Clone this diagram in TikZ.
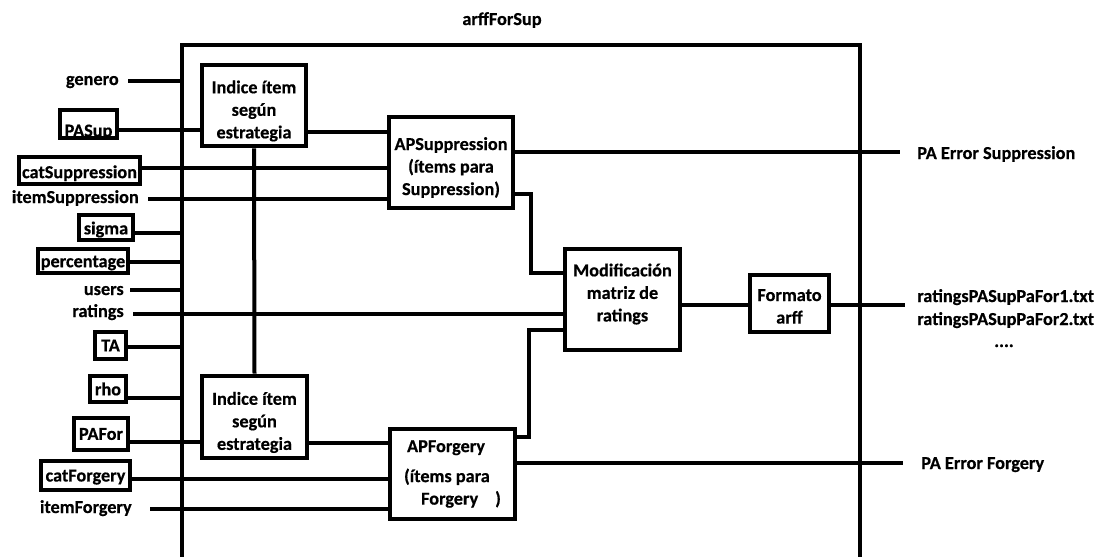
\documentclass[tikz,border=0pt]{standalone}
\usepackage{fontspec}
\setmainfont{Carlito}[BoldFeatures={FakeBold=0.5}]
\usetikzlibrary{calc}
\begin{document}
\begin{tikzpicture}[x=0.75pt,y=-0.75pt,
  txt/.style={font=\fontsize{13.7pt}{16.9pt}\selectfont\bfseries, inner sep=0pt, align=center},
  bx/.style 2 args={draw, line width=3.4pt, inner sep=0pt,
    minimum width=#1*0.75pt, minimum height=#2*0.75pt, txt},
  frame/.style={line width=3.4pt},
  wire/.style={line width=3pt}]

\useasboundingbox (0,0) rectangle (1104,557);

% title of the block
\node[txt, anchor=base] (title) at (502,25) {arffForSup};

% outer block, open at the bottom
\coordinate (fbl) at (182,562);
\coordinate (ftl) at (182,45);
\coordinate (ftr) at (860,45);
\coordinate (fbr) at (860,562);
\draw[frame] (fbl) -- (ftl) -- (ftr) -- (fbr);

% plain input names
\node[txt, anchor=base east] (gen)   at (119,85)  {genero};
\node[txt, anchor=base east] (itSup) at (139,203) {itemSuppression};
\node[txt, anchor=base east] (usr)   at (124,295) {users};
\node[txt, anchor=base east] (rat)   at (124,317) {ratings};
\node[txt, anchor=base east] (itFor) at (132,513) {itemForgery};

% boxed input parameters
\node[bx={57}{28},  label={[txt,yshift=-6pt]center:PASup}] (PASup) at (88.5,124) {};
\node[bx={121}{27}, label={[txt,yshift=-2pt]center:catSuppression}] (catSup) at (79.5,170.5) {};
\node[bx={54}{25},  label={[txt,yshift=-1.5pt]center:sigma}] (sigma) at (106,227.5) {};
\node[bx={90}{24},  label={[txt,yshift=-1.5pt]center:percentage}] (perc) at (83,261) {};
\node[bx={31}{27}]  (TA)     at (110.5,345.5) {TA};
\node[bx={36}{26}]  (rho)    at (108,389)   {rho};
\node[bx={54}{32}]  (PAFor)  at (101,434)   {PAFor};
\node[bx={89}{29},  label={[txt,yshift=-1.2pt]center:catForgery}] (catFor) at (85.5,475.5) {};

% processing blocks
\node[bx={104}{81}, label={[txt,yshift=-4.1pt]center:{Indice ítem\\según\\estrategia}}] (Ind1) at (254,105.5) {};
\node[bx={105}{82}, label={[txt,yshift=-4.1pt]center:{Indice ítem\\según\\estrategia}}] (Ind2) at (254.5,417) {};
\node[bx={124}{91}, label={[txt,yshift=-3.8pt]center:{APSuppression\\(ítems para\\Suppression)}}] (APS) at (451,162.5) {};
\node[bx={125}{90}, label={[txt,align=left]center:{\hspace*{2.25pt}APForgery\\[5.6pt](ítems para\\\hspace*{12.75pt}Forgery\hspace{12.75pt})}}] (APF) at (452.5,474) {};
\node[bx={115}{101}, label={[txt,yshift=4.1pt]center:{Modificación\\matriz de\\ratings}}] (Mod) at (622.5,299.5) {};
\node[bx={79}{57}, label={[txt,yshift=-2.2pt]center:{Formato\\arff}}] (Fmt) at (789.5,303.5) {};

% outputs
\node[txt, anchor=base west] (pes) at (917,159) {PA Error Suppression};
\node[txt, anchor=base west] (f1)  at (917,302) {ratingsPASupPaFor1.txt};
\node[txt, anchor=base west] (f2)  at (917,325) {ratingsPASupPaFor2.txt};
\node[txt, anchor=base]      (dots) at (1004,347) {....};
\node[txt, anchor=base west] (pef) at (921,469) {PA Error Forgery};

% free ends of the connectors
\coordinate (genS) at (128,81);
\coordinate (isS)  at (148,199);
\coordinate (usS)  at (130,290);
\coordinate (raS)  at (133,314);
\coordinate (ifS)  at (150,509);
\coordinate (pesE) at (900,152);
\coordinate (filE) at (905,305);
\coordinate (pefE) at (903,463);
\coordinate (jS)   at (531,273);
\coordinate (jF)   at (529,330);

% inputs into the block
\draw[wire] (genS) -- (genS -| ftl);
\draw[wire] (PASup.east |- 0,130) -- (Ind1.west |- 0,130);
\draw[wire] (catSup.east |- 0,168) -- (APS.west |- 0,168);
\draw[wire] (isS) -- (isS -| APS.west);
\draw[wire] (sigma.east |- 0,233) -- (ftl |- 0,233);
\draw[wire] (perc.east |- 0,262) -- (ftl |- 0,262);
\draw[wire] (usS) -- (usS -| ftl);
\draw[wire] (raS) -- (raS -| Mod.west);
\draw[wire] (TA.east |- 0,347) -- (ftl |- 0,347);
\draw[wire] (rho.east |- 0,398) -- (ftl |- 0,398);
\draw[wire] (PAFor.east |- 0,442) -- (Ind2.west |- 0,442);
\draw[wire] (catFor.east |- 0,479) -- (APF.west |- 0,479);
\draw[wire] (ifS) -- (ifS -| APF.west);

% internal connections
\draw[wire] (Ind1.south) -- (Ind2.north);
\draw[wire] (Ind1.east |- 0,132) -- (APS.west |- 0,132);
\draw[wire] (Ind2.east |- 0,443) -- (APF.west |- 0,443);
\draw[wire] (APS.east |- 0,194) -| (jS) -- (jS -| Mod.west);
\draw[wire] (APF.east |- 0,437) -| (jF) -- (jF -| Mod.west);
\draw[wire] (Mod.east |- 0,305) -- (Fmt.west |- 0,305);

% outputs of the block
\draw[wire] (APS.east |- pesE) -- (pesE);
\draw[wire] (Fmt.east |- filE) -- (filE);
\draw[wire] (APF.east |- pefE) -- (pefE);
\end{tikzpicture}
\end{document}
